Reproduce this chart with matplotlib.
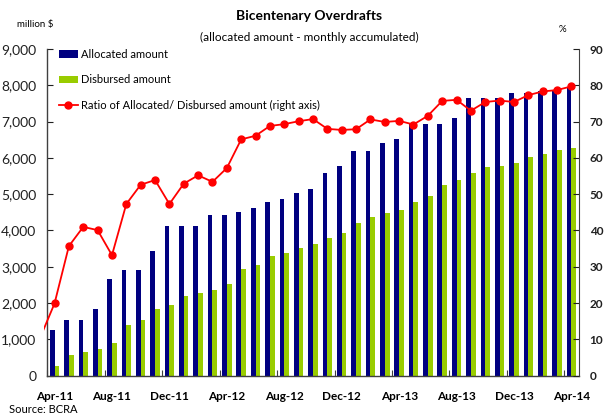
import matplotlib
matplotlib.use('Agg')
import matplotlib.pyplot as plt
import numpy as np
import pandas as pd

plt.rcParams['font.family'] = ['Lato', 'DejaVu Sans']

# monthly data, Apr-11 .. Apr-14 (million $ and %)
months = pd.date_range('2011-04-01', '2014-04-01', freq='MS').strftime('%b-%y').tolist()

allocated = [1260, 1535, 1535, 1837, 2660, 2910, 2910, 3430, 4120, 4120, 4120, 4420, 4420,
             4500, 4610, 4780, 4860, 5030, 5140, 5580, 5770, 6190, 6190, 6400, 6520,
             6925, 6925, 6925, 7090, 7640, 7640, 7640, 7780, 7780, 7830, 7880, 7930]

disbursed = [267, 570, 650, 730, 900, 1390, 1530, 1830, 1940, 2190, 2270, 2360, 2525,
             2940, 3040, 3300, 3380, 3510, 3620, 3790, 3930, 4200, 4370, 4480, 4560,
             4785, 4950, 5250, 5390, 5580, 5750, 5775, 5860, 6025, 6100, 6210, 6270]

ratio = [19.9, 35.7, 41.0, 40.1, 33.2, 47.3, 52.6, 53.9, 47.3, 52.9, 55.2, 53.4, 57.2,
         65.1, 66.1, 68.8, 69.3, 70.1, 70.7, 68.0, 67.7, 67.9, 70.6, 69.9, 70.2,
         69.2, 71.6, 75.7, 76.0, 73.0, 75.4, 75.8, 75.4, 77.3, 78.3, 78.7, 79.7]

# previous month (Mar-11), only the tail of its segment shows at the left edge
ratio_prev = 10.5

navy = '#000080'
green = '#99CC00'
red = '#FF0000'

x = np.arange(len(months))
w = 0.33

fig = plt.figure(figsize=(6.05, 4.15), dpi=100)
ax = fig.add_axes([44.2 / 605, 1 - 375.7 / 415, (578.6 - 44.2) / 605, (375.7 - 49) / 415])

b1 = ax.bar(x - w / 2, allocated, w, color=navy, label='Allocated amount', zorder=2)
b2 = ax.bar(x + w / 2, disbursed, w, color=green, label='Disbursed amount', zorder=2)

ax.set_xlim(-0.72, len(months) - 0.5)
ax.set_ylim(0, 9000)
ax.set_yticks(np.arange(0, 9001, 1000))
ax.set_yticklabels([f'{v:,}' for v in range(0, 9001, 1000)], fontweight='bold', fontsize=8.5)

for s in ['top', 'right']:
    ax.spines[s].set_visible(False)
ax.spines['left'].set_position(('data', -0.5))
ax.spines['bottom'].set_bounds(-0.5, len(months) - 0.5)
for s in ['left', 'bottom']:
    ax.spines[s].set_color('#404040')
    ax.spines[s].set_linewidth(1.0)

ax.tick_params(axis='y', direction='in', length=4, pad=8, colors='#202020')
ax.set_xticks(np.arange(-0.5, len(months) - 1, 4))
ax.set_xticklabels([])
ax.set_xticks(x[::4], minor=True)
ax.set_xticklabels(months[::4], minor=True, fontweight='bold', fontsize=8.5)
ax.tick_params(axis='x', which='major', direction='in', length=4, color='#404040')
ax.tick_params(axis='x', which='minor', length=0, pad=11)

ax2 = ax.twinx()
ax2.set_ylim(0, 90)
ax2.set_yticks(np.arange(0, 91, 10))
ax2.set_yticklabels([str(v) for v in range(0, 91, 10)], fontweight='bold', fontsize=8.5)
for s in ['top', 'left', 'bottom']:
    ax2.spines[s].set_visible(False)
ax2.spines['right'].set_color('#404040')
ax2.tick_params(axis='y', direction='in', length=4, pad=8, colors='#202020')

xr = np.concatenate([[-1], x])
yr = [ratio_prev] + ratio
ln, = ax2.plot(xr, yr, color=red, lw=1.3, marker='o', markersize=5,
               markevery=list(range(1, len(xr))), zorder=3)
ln.set_label('Ratio of Allocated/ Disbursed amount (right axis)')

ax2.legend(handles=[b1, b2, ln], loc='upper left', frameon=False, fontsize=8,
           bbox_to_anchor=(59 / 605, 1 - 49 / 415), bbox_transform=fig.transFigure,
           borderpad=0, borderaxespad=0, labelspacing=1.3, handlelength=1.7,
           handletextpad=0.3)

fig.text(309.5 / 605, 1 - 16 / 415, 'Bicentenary Overdrafts', ha='center', va='center',
         fontsize=10, fontweight='bold')
fig.text(309.5 / 605, 1 - 37 / 415, '(allocated amount - monthly accumulated)',
         ha='center', va='center', fontsize=8.5)
fig.text(35 / 605, 1 - 25 / 415, 'million $', ha='center', va='center', fontsize=7)
fig.text(562 / 605, 1 - 29 / 415, '%', ha='center', va='center', fontsize=7)
fig.text(9 / 605, 1 - 409 / 415, 'Source: BCRA', ha='left', va='center', fontsize=8)

fig.savefig('out.png', dpi=100)
